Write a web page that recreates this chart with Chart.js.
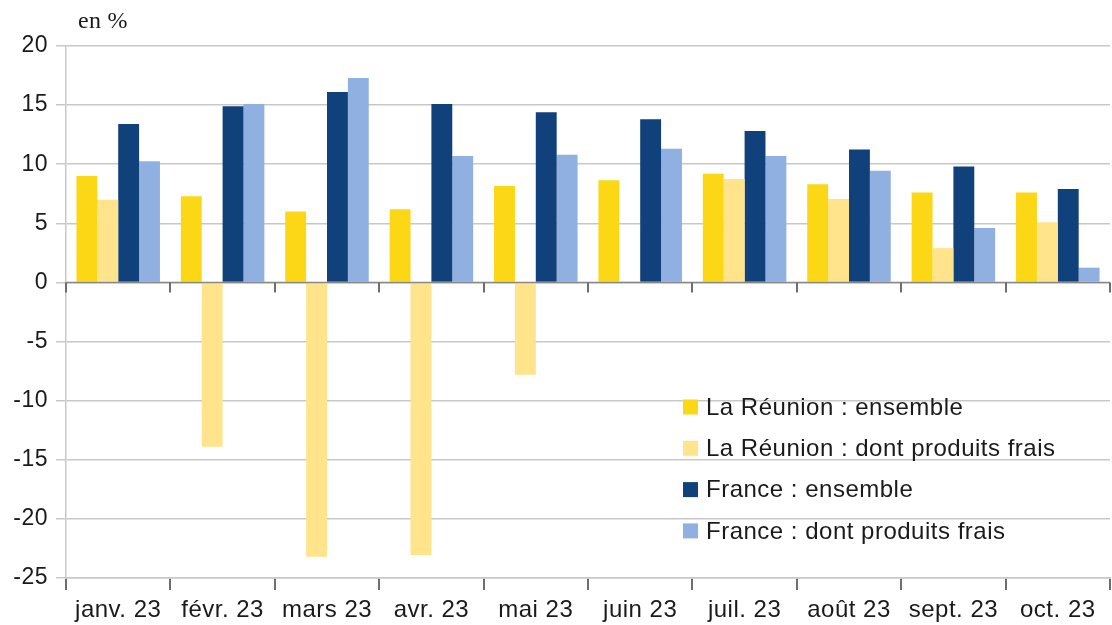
<!DOCTYPE html>
<html lang="fr">
<head>
    <meta charset="UTF-8">
    <title>Prix - La Réunion / France</title>
    <script src="https://cdn.jsdelivr.net/npm/chart.js"></script>
    <style>
        html, body {
            margin: 0;
            padding: 0;
            background: #ffffff;
        }
        #wrap {
            position: relative;
            width: 1112px;
            height: 625px;
        }
        .unit {
            position: absolute;
            left: 78px;
            top: 7px;
            font-family: 'Liberation Serif', serif;
            font-size: 24px;
            letter-spacing: 0.3px;
            color: #1a1a1a;
        }
    </style>
</head>
<body>
    <div id="wrap">
        <canvas id="prixChart" width="1112" height="625"></canvas>
        <div class="unit">en %</div>
    </div>

    <script>
        const mois = ['janv. 23', 'févr. 23', 'mars 23', 'avr. 23', 'mai 23', 'juin 23', 'juil. 23', 'août 23', 'sept. 23', 'oct. 23'];
        const reunionEnsemble = [9.0, 7.3, 6.0, 6.2, 8.15, 8.65, 9.2, 8.3, 7.6, 7.6];
        const reunionFrais = [7.0, -13.9, -23.2, -23.05, -7.8, 0.1, 8.75, 7.05, 2.9, 5.1];
        const franceEnsemble = [13.4, 14.9, 16.1, 15.1, 14.4, 13.8, 12.8, 11.25, 9.8, 7.9];
        const franceFrais = [10.25, 15.1, 17.3, 10.7, 10.8, 11.3, 10.7, 9.45, 4.6, 1.25];
        const yTicks = [20, 15, 10, 5, 0, -5, -10, -15, -20, -25];

        const texte = '#1a1a1a';
        const grille = '#c8c8c8';
        const police = '"Liberation Sans", Arial, sans-serif';

        // slightly wider text, like the original export
        const espacement = {
            id: 'espacement',
            beforeDraw(chart) {
                chart.ctx.letterSpacing = '0.5px';
            }
        };

        // ticks on the zero line + legend inside the plot
        const extras = {
            id: 'extras',
            afterDraw(chart) {
                const c = chart.ctx;
                const x = chart.scales.x;
                const y = chart.scales.y;
                const y0 = y.getPixelForValue(0);
                const n = mois.length;
                c.save();
                c.strokeStyle = '#888888';
                c.lineWidth = 1.5;
                c.beginPath();
                c.moveTo(x.left, y0);
                c.lineTo(x.right, y0);
                c.stroke();
                c.strokeStyle = '#6e6e6e';
                c.lineWidth = 2;
                for (let i = 0; i <= n; i++) {
                    const px = Math.round(x.left + i * (x.right - x.left) / n);
                    c.beginPath();
                    c.moveTo(px, y0);
                    c.lineTo(px, y0 + 10);
                    c.stroke();
                }

                c.font = '24px ' + police;
                c.letterSpacing = '0.5px';
                c.textBaseline = 'middle';
                chart.data.datasets.forEach((ds, i) => {
                    const top = 407 + i * 41.3;
                    c.fillStyle = ds.backgroundColor;
                    c.fillRect(683, top - 7.5, 15, 15);
                    c.fillStyle = texte;
                    c.fillText(ds.label, 706, top + 1);
                });
                c.restore();
            }
        };

        const ctx = document.getElementById('prixChart').getContext('2d');
        new Chart(ctx, {
            type: 'bar',
            data: {
                labels: mois,
                datasets: [
                    { label: 'La Réunion : ensemble', data: reunionEnsemble, backgroundColor: '#fbd715' },
                    { label: 'La Réunion : dont produits frais', data: reunionFrais, backgroundColor: '#ffe48c' },
                    { label: 'France : ensemble', data: franceEnsemble, backgroundColor: '#10417a' },
                    { label: 'France : dont produits frais', data: franceFrais, backgroundColor: '#8fb0e0' }
                ]
            },
            options: {
                responsive: false,
                animation: false,
                layout: {
                    padding: { top: 46, right: 2, left: 0, bottom: 0 }
                },
                datasets: {
                    bar: {
                        categoryPercentage: 0.8,
                        barPercentage: 1.0
                    }
                },
                plugins: {
                    legend: { display: false },
                    tooltip: { enabled: false }
                },
                scales: {
                    x: {
                        afterFit(scale) { scale.height = 47; },
                        grid: {
                            offset: true,
                            drawOnChartArea: false,
                            drawTicks: true,
                            tickLength: 12,
                            color: '#6e6e6e',
                            lineWidth: 2
                        },
                        border: { color: grille, width: 1.5 },
                        ticks: {
                            color: texte,
                            padding: 6,
                            maxRotation: 0,
                            font: { family: police, size: 24 }
                        }
                    },
                    y: {
                        min: -25,
                        max: 20,
                        afterFit(scale) { scale.width = 66; },
                        afterBuildTicks(scale) {
                            scale.ticks = yTicks.map(v => ({ value: v }));
                        },
                        grid: {
                            color: grille,
                            lineWidth: 1.5,
                            tickLength: 10
                        },
                        border: { color: grille, width: 1.5 },
                        ticks: {
                            color: texte,
                            padding: 8,
                            font: { family: police, size: 23 }
                        }
                    }
                }
            },
            plugins: [espacement, extras]
        });
    </script>
</body>
</html>
